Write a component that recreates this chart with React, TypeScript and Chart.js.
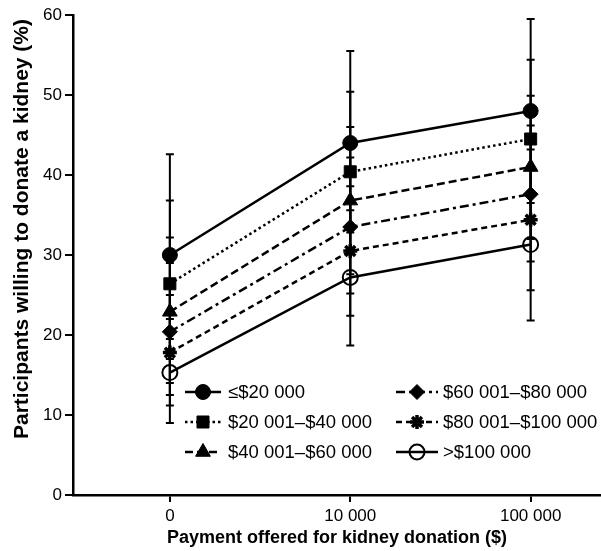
import React, { useEffect, useRef } from "react";
import { Chart, registerables } from "chart.js";

Chart.register(...registerables);

// ---- Data ----
const paymentPositions = [0, 1, 2];
const paymentLabels = ["0", "10 000", "100 000"];
const yTicks = [0, 10, 20, 30, 40, 50, 60];

const seriesNames = [
  "≤$20 000",
  "$20 001–$40 000",
  "$40 001–$60 000",
  "$60 001–$80 000",
  "$80 001–$100 000",
  ">$100 000",
];

const income20k = [30, 44, 48];
const income40k = [26.4, 40.4, 44.5];
const income60k = [22.9, 36.8, 41];
const income80k = [20.4, 33.5, 37.6];
const income100k = [17.8, 30.5, 34.4];
const incomeOver100k = [15.3, 27.2, 31.3];

const income20kLow = [19.5, 32.8, 36.5];
const income20kHigh = [42.6, 55.5, 59.5];
const income40kLow = [17, 30.5, 34.6];
const income40kHigh = [36.8, 50.4, 54.4];
const income60kLow = [14, 27.6, 32];
const income60kHigh = [32.2, 46, 49.9];
const income80kLow = [12.5, 25.2, 29.2];
const income80kHigh = [29, 42.2, 46.2];
const income100kLow = [11.2, 22.4, 25.6];
const income100kHigh = [25, 38.6, 43.2];
const incomeOver100kLow = [9, 18.7, 21.8];
const incomeOver100kHigh = [22, 35.6, 40.6];

const seriesValues = [income20k, income40k, income60k, income80k, income100k, incomeOver100k];
const seriesLows = [income20kLow, income40kLow, income60kLow, income80kLow, income100kLow, incomeOver100kLow];
const seriesHighs = [income20kHigh, income40kHigh, income60kHigh, income80kHigh, income100kHigh, incomeOver100kHigh];

// ---- Styles ----
const FONT = "'Liberation Sans', Arial, Helvetica, sans-serif";
const dashes: number[][] = [[], [2.5, 3], [8, 4], [9, 4, 3, 4], [6, 4], []];
const pointStyles = ["circle", "rect", "triangle", "rectRot", "star", "circle"];
const pointRadii = [7.5, 8.5, 8.5, 7.5, 7, 7.5];
const pointFills = ["#000", "#000", "#000", "#000", "#000", "rgba(255,255,255,0)"];
const pointBorderWidths = [1, 1, 1, 1, 3.5, 2];

function drawMarker(ctx: CanvasRenderingContext2D, style: string, x: number, y: number, r: number, fill: string, bw: number) {
  ctx.save();
  ctx.setLineDash([]);
  ctx.fillStyle = fill;
  ctx.strokeStyle = "#000";
  ctx.lineWidth = bw;
  ctx.beginPath();
  if (style === "circle") {
    ctx.arc(x, y, r, 0, Math.PI * 2);
    ctx.fill();
    ctx.stroke();
  } else if (style === "rect") {
    const s = r * Math.SQRT1_2;
    ctx.rect(x - s, y - s, 2 * s, 2 * s);
    ctx.fill();
    ctx.stroke();
  } else if (style === "triangle") {
    for (let k = 0; k < 3; k++) {
      const a = (k * 2 * Math.PI) / 3;
      const px = x + Math.sin(a) * r;
      const py = y - Math.cos(a) * r;
      if (k === 0) ctx.moveTo(px, py);
      else ctx.lineTo(px, py);
    }
    ctx.closePath();
    ctx.fill();
    ctx.stroke();
  } else if (style === "rectRot") {
    ctx.moveTo(x, y - r);
    ctx.lineTo(x + r, y);
    ctx.lineTo(x, y + r);
    ctx.lineTo(x - r, y);
    ctx.closePath();
    ctx.fill();
    ctx.stroke();
  } else if (style === "star") {
    for (let k = 0; k < 4; k++) {
      const a = (k * Math.PI) / 4;
      ctx.moveTo(x - Math.cos(a) * r, y - Math.sin(a) * r);
      ctx.lineTo(x + Math.cos(a) * r, y + Math.sin(a) * r);
    }
    ctx.stroke();
  }
  ctx.restore();
}

const errorBarPlugin = {
  id: "errorBars",
  beforeDatasetsDraw(chart: any) {
    const ctx = chart.ctx as CanvasRenderingContext2D;
    const xs = chart.scales.x;
    const ys = chart.scales.y;
    ctx.save();
    ctx.strokeStyle = "#000";
    ctx.lineWidth = 2;
    ctx.setLineDash([]);
    seriesValues.forEach((_, i) => {
      paymentPositions.forEach((p, j) => {
        const x = xs.getPixelForValue(p);
        const yl = ys.getPixelForValue(seriesLows[i][j]);
        const yh = ys.getPixelForValue(seriesHighs[i][j]);
        ctx.beginPath();
        ctx.moveTo(x, yl);
        ctx.lineTo(x, yh);
        ctx.moveTo(x - 4, yl);
        ctx.lineTo(x + 4, yl);
        ctx.moveTo(x - 4, yh);
        ctx.lineTo(x + 4, yh);
        ctx.stroke();
      });
    });
    ctx.restore();
  },
};

const legendPlugin = {
  id: "customLegend",
  afterDraw(chart: any) {
    const ctx = chart.ctx as CanvasRenderingContext2D;
    const rows = [392, 422, 452];
    const cols = [
      { x0: 185, x1: 221, tx: 228 },
      { x0: 396, x1: 438, tx: 443 },
    ];
    ctx.save();
    seriesNames.forEach((name, i) => {
      const col = cols[Math.floor(i / 3)];
      const y = rows[i % 3];
      ctx.strokeStyle = "#000";
      ctx.lineWidth = 2.5;
      ctx.setLineDash(dashes[i]);
      ctx.beginPath();
      ctx.moveTo(col.x0, y);
      ctx.lineTo(col.x1, y);
      ctx.stroke();
      drawMarker(ctx, pointStyles[i], (col.x0 + col.x1) / 2, y, pointRadii[i], pointFills[i], pointBorderWidths[i]);
      ctx.setLineDash([]);
      ctx.fillStyle = "#000";
      ctx.font = `18.5px ${FONT}`;
      ctx.textAlign = "left";
      ctx.textBaseline = "middle";
      ctx.fillText(name, col.tx, y + 1);
    });
    // y-axis title
    ctx.translate(22, 229);
    ctx.rotate(-Math.PI / 2);
    ctx.font = `bold 21px ${FONT}`;
    ctx.textAlign = "center";
    ctx.textBaseline = "middle";
    ctx.fillStyle = "#000";
    ctx.fillText("Participants willing to donate a kidney (%)", 0, 0);
    ctx.restore();
  },
};

export default function App() {
  const canvasRef = useRef<HTMLCanvasElement | null>(null);

  useEffect(() => {
    if (!canvasRef.current) return;
    const datasets = seriesNames.map((name, i) => ({
      label: name,
      data: paymentPositions.map((p, j) => ({ x: p, y: seriesValues[i][j] })),
      borderColor: "#000",
      borderWidth: 2.5,
      borderDash: dashes[i],
      pointStyle: pointStyles[i] as any,
      pointRadius: pointRadii[i],
      pointBackgroundColor: pointFills[i],
      pointBorderColor: "#000",
      pointBorderWidth: pointBorderWidths[i],
      fill: false,
      tension: 0,
    }));

    const chart = new Chart(canvasRef.current, {
      type: "line",
      data: { datasets },
      options: {
        animation: false,
        responsive: false,
        devicePixelRatio: 1,
        layout: { autoPadding: false, padding: { top: 15, right: 0, bottom: 0, left: 0 } },
        plugins: {
          legend: { display: false },
          tooltip: { enabled: false },
        },
        scales: {
          x: {
            type: "linear",
            min: -0.537,
            max: 2.39,
            afterBuildTicks: (s: any) => {
              s.ticks = paymentPositions.map((v) => ({ value: v }));
            },
            ticks: {
              autoSkip: false,
              maxRotation: 0,
              padding: 4,
              color: "#000",
              font: { family: FONT, size: 17 },
              callback: (v: any) => {
                const idx = paymentPositions.indexOf(Number(v));
                return idx >= 0 ? paymentLabels[idx] : "";
              },
            },
            grid: { drawOnChartArea: false, drawTicks: true, tickLength: 7, color: "#000", lineWidth: 2 },
            border: { color: "#000", width: 2.5 },
            title: {
              display: true,
              text: "Payment offered for kidney donation ($)",
              color: "#000",
              font: { family: FONT, size: 18, weight: "bold" },
              padding: { top: 0, bottom: 2 },
            },
            afterFit: (s: any) => {
              s.height = 56;
              s.paddingLeft = 0;
              s.paddingRight = 0;
            },
          },
          y: {
            type: "linear",
            min: 0,
            max: 60,
            afterBuildTicks: (s: any) => {
              s.ticks = yTicks.map((v) => ({ value: v }));
            },
            ticks: {
              padding: 3,
              color: "#000",
              font: { family: FONT, size: 17 },
            },
            grid: { drawOnChartArea: false, drawTicks: true, tickLength: 8, color: "#000", lineWidth: 2 },
            border: { color: "#000", width: 2.5 },
            afterFit: (s: any) => {
              s.width = 73;
            },
          },
        },
      },
      plugins: [errorBarPlugin, legendPlugin],
    });
    return () => chart.destroy();
  }, []);

  return (
    <div style={{ position: "fixed", left: 0, top: 0, width: 601, height: 551, overflow: "hidden", background: "#fff" }}>
      <canvas ref={canvasRef} width={601} height={551} style={{ display: "block", width: 601, height: 551 }} />
    </div>
  );
}
